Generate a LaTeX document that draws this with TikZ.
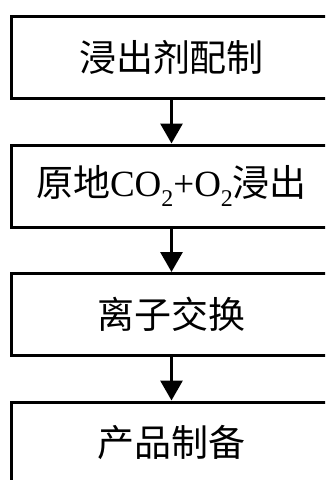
\documentclass[tikz,border=0pt]{standalone}
\usepackage{fontspec}
\setmainfont{Liberation Serif}
\newfontfamily\cjk{Noto Sans CJK SC}
\usetikzlibrary{arrows.meta}
\begin{document}
\begin{tikzpicture}[x=1pt,y=1pt,
  stepbox/.style={draw=black,line width=3pt,rectangle,minimum width=320pt,minimum height=82pt,inner sep=0pt,
    font=\fontsize{37}{40}\selectfont},
  arr/.style={line width=3pt,-{Triangle[width=22pt,length=20pt]}}]
\useasboundingbox (0,0) rectangle (325,-480);
\clip (0,0) rectangle (325,-480);
\node[stepbox] (b1) at (171.5,-57.5) {\cjk 浸出剂配制};
\node[stepbox] (b2) at (171.5,-186) {{\cjk 原地}CO\raisebox{-0.28em}{\fontsize{24}{26}\selectfont 2}+O\raisebox{-0.28em}{\fontsize{24}{26}\selectfont 2}{\cjk 浸出}};
\node[stepbox] (b3) at (171.5,-314.5) {\cjk 离子交换};
\node[stepbox] (b4) at (171.5,-443) {\cjk 产品制备};
\draw[arr] (b1) -- (b2);
\draw[arr] (b2) -- (b3);
\draw[arr] (b3) -- (b4);
\end{tikzpicture}
\end{document}
